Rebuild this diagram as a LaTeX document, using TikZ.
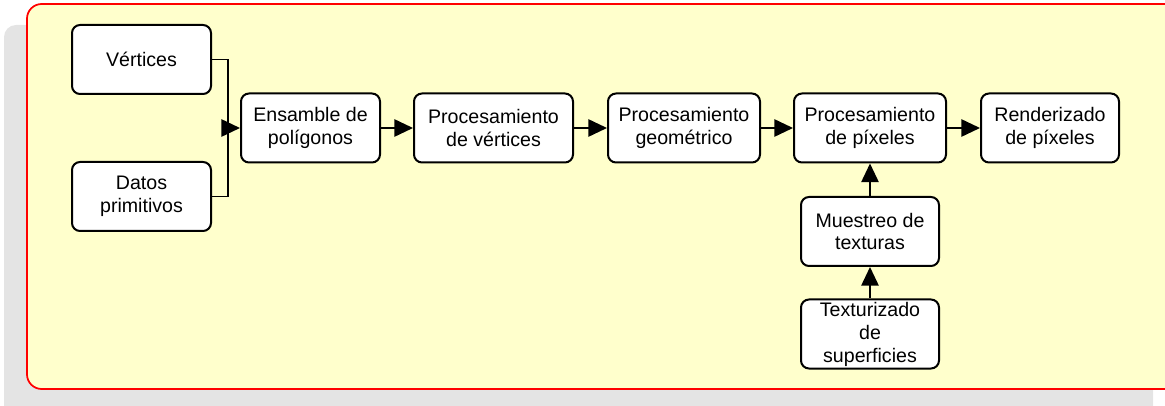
\documentclass[tikz,border=0pt]{standalone}
\usepackage{fontspec}
\setmainfont{Liberation Sans}
\usetikzlibrary{arrows.meta}
\definecolor{panelfill}{HTML}{FFFFCC}
\definecolor{shadowgray}{HTML}{E4E4E4}
\definecolor{panelred}{HTML}{FF0000}
\begin{document}
\begin{tikzpicture}[x=0.75pt,y=-0.75pt,
  stage/.style={draw=black, line width=1.5pt, fill=white, rounded corners=6pt,
    align=center, inner sep=0pt, minimum height=51.75pt,
    font=\fontsize{14.7}{17.2}\selectfont},
  flow/.style={line width=1.3pt, -{Triangle[length=14pt,width=13pt]}},
  feed/.style={line width=1.3pt}
]
\useasboundingbox (0,0) rectangle (1165,406);
\clip (0,0) rectangle (1165,406);
% background panel with its shadow
\fill[shadowgray, rounded corners=9pt] (4,25) rectangle (1153,420);
\draw[panelred, fill=panelfill, line width=1.3pt, rounded corners=11pt]
  (27,4) rectangle (1190,389);

% stages
\node[stage, minimum width=104.25pt] (vert) at (141.5,59.5) {Vértices};
\node[stage, minimum width=104.25pt] (datos) at (141.5,196.5) {Datos\\primitivos};
\node[stage, minimum width=104.25pt] (ens) at (310.5,128) {Ensamble de\\polígonos};
\node[stage, minimum width=119.25pt] (pver) at (493.5,128) {Procesamiento\\de vértices};
\node[stage, minimum width=114pt] (pgeo) at (684,128) {Procesamiento\\geométrico};
\node[stage, minimum width=114pt] (ppix) at (870,128) {Procesamiento\\de píxeles};
\node[stage, minimum width=103.5pt] (rend) at (1050,128) {Renderizado\\de píxeles};
\node[stage, minimum width=103.5pt] (mues) at (870,231.5) {Muestreo de\\texturas};
\node[stage, minimum width=103.5pt] (text) at (870,334) {Texturizado\\de\\superficies};

% merging inputs
\coordinate (join) at (228,128);
\draw[feed] (vert.east) -| (join);
\draw[feed] (datos.east) -| (join);
\draw[flow] (join) -- (ens.west);

% main pipeline
\draw[flow] (ens.east) -- (pver.west);
\draw[flow] (pver.east) -- (pgeo.west);
\draw[flow] (pgeo.east) -- (ppix.west);
\draw[flow] (ppix.east) -- (rend.west);
\draw[flow] (mues.north) -- (ppix.south);
\draw[flow] (text.north) -- (mues.south);
\end{tikzpicture}
\end{document}
